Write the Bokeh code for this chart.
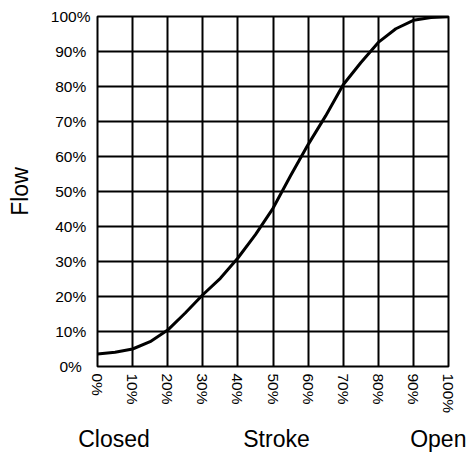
from bokeh.plotting import figure
from bokeh.models import Range1d, FixedTicker, CustomJSTickFormatter, LinearAxis
from bokeh.embed import file_html
from bokeh.resources import INLINE

# Data
stroke = [0, 5, 10, 15, 20, 25, 30, 35, 40, 45, 50, 55, 60, 65, 70, 75, 80, 85, 90, 95, 100]
flow = [3.6, 4.1, 5.0, 7.1, 10.4, 15.3, 20.5, 25.2, 31.0, 37.7, 45.2, 54.5, 63.4, 71.6,
        80.5, 86.8, 92.6, 96.5, 98.9, 99.7, 99.9]
tick_values = [0, 10, 20, 30, 40, 50, 60, 70, 80, 90, 100]
y_title = "Flow"
bottom_positions = [4.7, 51, 97.1]
bottom_texts = ["Closed", "Stroke", "Open"]

FONT = "Liberation Sans"

p = figure(width=470, height=454, output_backend="svg", toolbar_location=None,
           x_range=Range1d(0, 100), y_range=Range1d(0, 100),
           min_border_left=97, min_border_right=22, min_border_top=16, min_border_bottom=84)
p.background_fill_color = "white"
p.border_fill_color = "white"
p.outline_line_color = "black"
p.outline_line_width = 2
p.outline_line_alpha = 1

# labels are centred in the reference: pad shorter ones with no-break spaces
fmt = CustomJSTickFormatter(code="""
const s = tick.toFixed(0) + '%';
return s + '\\u00a0'.repeat(Math.max(0, 4 - s.length));
""")
for ax in (p.xaxis, p.yaxis):
    ax.ticker = FixedTicker(ticks=tick_values)
    ax.formatter = fmt
    ax.major_tick_in = 0
    ax.major_tick_out = 0
    ax.minor_tick_in = 0
    ax.minor_tick_out = 0
    ax.axis_line_color = None
    ax.major_label_text_font = FONT
    ax.major_label_text_font_size = "15.5px"
    ax.major_label_text_color = "black"
    ax.major_label_standoff = 7
p.xaxis.major_label_orientation = "vertical"

p.yaxis.axis_label = y_title
p.yaxis.axis_label_text_font = FONT
p.yaxis.axis_label_text_font_size = "23px"
p.yaxis.axis_label_text_font_style = "normal"
p.yaxis.axis_label_text_color = "black"
p.yaxis.axis_label_standoff = 15

# second bottom axis carrying the Closed / Stroke / Open captions
cap_axis = LinearAxis(ticker=FixedTicker(ticks=bottom_positions),
                      major_label_overrides={pos: txt for pos, txt in zip(bottom_positions, bottom_texts)})
cap_axis.axis_line_color = None
cap_axis.major_tick_in = 0
cap_axis.major_tick_out = 0
cap_axis.minor_tick_in = 0
cap_axis.minor_tick_out = 0
cap_axis.major_label_text_font = FONT
cap_axis.major_label_text_font_size = "23px"
cap_axis.major_label_text_color = "black"
cap_axis.major_label_standoff = 9
p.add_layout(cap_axis, "below")

for g in (p.xgrid, p.ygrid):
    g.ticker = FixedTicker(ticks=tick_values)
    g.grid_line_color = "black"
    g.grid_line_width = 2
    g.grid_line_alpha = 1

p.line(stroke, flow, line_color="black", line_width=3, line_join="round")

open("out.html", "w").write(file_html(p, INLINE))
